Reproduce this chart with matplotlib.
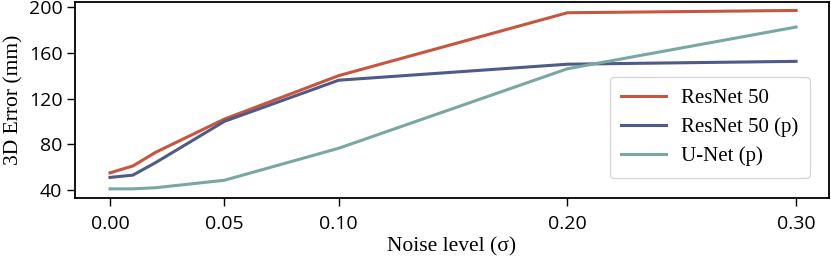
import matplotlib
matplotlib.use("Agg")
import matplotlib.pyplot as plt

noise = [0.0, 0.01, 0.02, 0.05, 0.10, 0.20, 0.30]
resnet50 = [55, 61, 73, 102, 140, 195, 197]
resnet50_p = [51, 53, 64, 100, 136, 150, 152.5]
unet_p = [41, 41, 42, 48.5, 76.5, 146, 182.5]
xticks = [0.0, 0.05, 0.10, 0.20, 0.30]
xticklabels = ["0.00", "0.05", "0.10", "0.20", "0.30"]
yticks = [40, 80, 120, 160, 200]

serif = ["Liberation Serif", "DejaVu Serif"]
sans = ["Open Sans", "DejaVu Sans"]

fig = plt.figure(figsize=(8.31, 2.61), dpi=100)
ax = fig.add_axes([75/831, 1-198/261, (829-75)/831, (198-2)/261])
ax.plot(noise, resnet50, color="#c8553d", lw=2.2, label="ResNet 50")
ax.plot(noise, resnet50_p, color="#4e5a8a", lw=2.2, label="ResNet 50 (p)")
ax.plot(noise, unet_p, color="#79a7a1", lw=2.2, label="U-Net (p)")
ax.set_xlim(-0.0153, 0.3144)
ax.set_ylim(33, 204.4)
ax.set_xticks(xticks)
ax.set_xticklabels(xticklabels, fontfamily=sans, fontsize=14)
ax.set_yticks(yticks)
ax.set_yticklabels([str(v) for v in yticks], fontfamily=sans, fontsize=14)
ax.tick_params(axis="x", pad=6, length=6, width=1)
ax.tick_params(axis="y", pad=3, length=6, width=1)
for s in ax.spines.values():
    s.set_linewidth(1.3)
ax.set_xlabel("Noise level (σ)", fontfamily=serif, fontsize=15.5, labelpad=3)
ax.set_ylabel("3D Error (mm)", fontfamily=serif, fontsize=15.5, labelpad=4)
leg = ax.legend(loc="lower right", prop={"family": serif, "size": 15}, frameon=True,
                fancybox=True, edgecolor="#cccccc", handlelength=2.15, handletextpad=0.7,
                borderpad=0.55, labelspacing=0.45, bbox_to_anchor=(0.988, 0.05))
fig.savefig("out.png", dpi=100)
